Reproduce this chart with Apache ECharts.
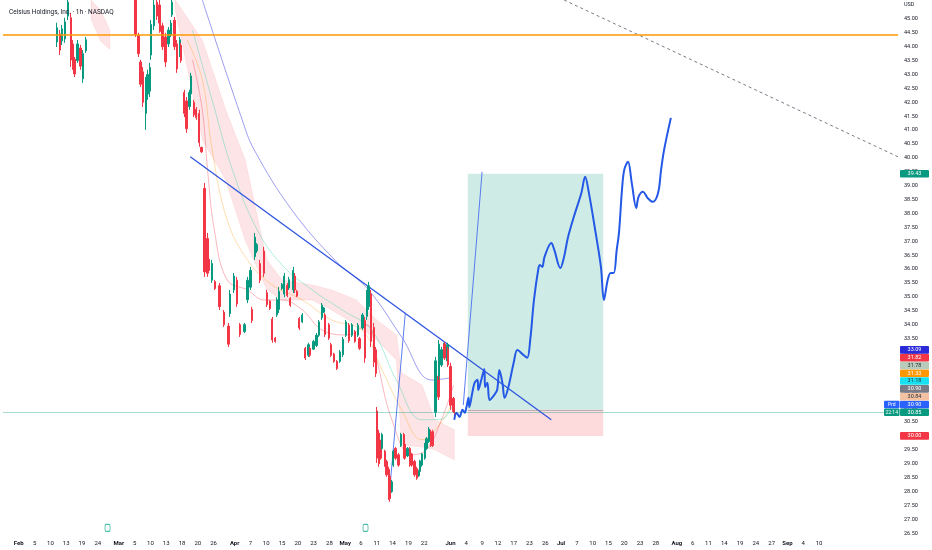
<!DOCTYPE html>
<html>
<head>
<meta charset="utf-8">
<script src="https://cdn.jsdelivr.net/npm/echarts@6/dist/echarts.min.js"></script>
<style>
html, body { margin: 0; padding: 0; background: #fff; }
#main { width: 932px; height: 550px; }
</style>
</head>
<body>
<div id="main"></div>
<script>
// time axis: trading hours, 7 per day
var tickDays = [3,6,9,12,15,18,22,25,28,31,34,37,40,44,47,50,53,56,59,62,65,68,71,74,77,80,85,88,91,94,97,100,103,106,109,112,115,118,121,124,128,131,134,137,140,143,146,149,152,155];
var tickTexts = ['Feb','5','10','13','19','24','Mar','5','10','13','18','20','26','Apr','7','10','15','20','23','28','May','6','11','14','19','22','Jun','4','9','12','17','23','26','Jul','7','10','15','20','23','28','Aug','6','11','14','19','24','27','Sep','4','10'];
var monthNames = ['Feb','Mar','Apr','May','Jun','Jul','Aug','Sep'];

var candleHours = [72,76,78,82,86,90,93,95,99,103,106,110,
  176,180,183,186,190,192,195,197,201,205,208,209,212,216,220,223,225,228,231,235,
  237,241,244,248,250,254,257,261,264,268,272,274,278,282,288,294,300,302,307,311,
  315,321,325,329,331,335,338,342,347,351,355,358,362,364,367,371,374,378,380,382,
  386,388,391,394,398,402,406,408,413,417,420,424,427,428,433,436,440,444,448,452,
  456,460,464,468,472,474,478,481,484,486,489,493,496,497,500,502,504,508,510,513,
  514,517,519,522,526,529,533,534,538,541,543,547,550,553,554,557,561,563,566,569,
  572,575,579,580,583,586,587,591,592,595,599,600];

// [open, close, low, high]
var candleOHLC = [
  [44.17,44.68,43.99,44.86],[44.46,43.88,43.70,44.60],[44.21,44.64,44.06,44.78],[44.28,44.89,44.14,45.04],
  [45.10,45.60,44.96,45.90],[45.04,43.52,43.27,45.22],[44.10,43.30,43.17,44.24],[43.55,43.02,42.91,43.63],
  [43.50,44.10,43.42,44.24],[43.95,43.30,43.17,44.06],[42.85,43.75,42.70,43.88],[43.85,44.25,43.78,44.35],
  [45.90,44.45,44.35,46.00],[44.40,43.75,43.63,44.50],[43.45,42.65,42.55,43.53],[43.10,42.00,41.83,43.27],
  [41.60,42.70,41.01,42.91],[42.30,43.00,42.09,43.17],[42.40,43.25,42.19,43.42],[43.70,44.80,43.53,44.96],
  [44.75,45.50,44.60,45.90],[45.60,45.10,44.96,45.90],[45.50,44.85,44.71,45.80],[44.90,44.55,44.50,44.96],
  [44.75,44.00,43.88,44.86],[44.35,43.45,43.27,44.50],[44.10,44.60,43.99,44.71],[44.45,44.85,44.35,44.96],
  [45.15,45.60,45.07,45.90],[44.95,44.00,43.88,45.07],[44.10,43.20,43.06,44.24],[43.75,44.25,43.63,44.35],
  [44.05,43.50,43.42,44.14],[42.35,41.60,41.47,42.45],[42.05,41.05,40.90,42.19],[41.85,42.35,41.73,42.45],
  [42.30,42.95,42.19,43.06],[42.00,41.55,41.47,42.09],[41.75,41.45,41.37,41.83],[41.60,40.55,40.40,41.73],
  [40.38,40.22,40.18,40.40],[38.90,35.90,35.72,39.10],[37.10,35.85,35.72,37.30],[36.35,35.95,35.86,36.44],
  [35.60,36.20,35.50,36.33],[35.55,35.30,35.25,35.61],[35.40,34.65,34.53,35.50],[34.45,34.00,33.92,34.53],
  [33.95,33.30,33.20,34.06],[34.40,35.10,34.28,35.25],[35.25,35.75,35.14,35.86],[35.60,34.75,34.64,35.72],
  [34.00,33.65,33.56,34.06],[33.75,34.00,33.70,34.06],[34.90,35.60,34.78,35.72],[35.35,35.95,35.25,36.08],
  [34.55,34.15,34.06,34.64],[36.45,37.15,36.33,37.30],[36.65,36.88,36.58,36.94],[36.20,35.60,35.50,36.33],
  [36.65,35.85,35.72,36.80],[35.15,34.72,34.64,35.25],[34.85,34.58,34.53,34.89],[34.20,33.45,33.35,34.28],
  [33.52,33.40,33.35,33.56],[34.35,34.90,34.28,34.99],[34.55,35.20,34.42,35.36],[35.30,35.45,35.25,35.50],
  [35.10,35.75,34.99,35.86],[35.42,35.05,34.99,35.50],[35.32,35.62,35.25,35.72],[34.95,34.70,34.64,34.99],
  [35.25,35.95,35.14,36.08],[35.75,35.25,35.14,35.86],[35.20,35.03,34.99,35.25],[34.22,33.88,33.81,34.28],
  [34.10,34.35,34.06,34.42],[33.15,32.80,32.73,33.20],[32.90,33.28,32.84,33.35],[33.15,32.90,32.84,33.20],
  [33.12,33.40,33.09,33.45],[33.25,33.62,33.20,33.70],[33.62,34.10,33.56,34.17],[34.25,34.70,34.17,34.78],
  [34.45,34.60,34.42,34.64],[34.35,33.65,33.56,34.42],[34.00,33.52,33.45,34.06],[33.28,32.90,32.84,33.35],
  [32.95,32.68,32.63,32.99],[32.68,32.42,32.37,32.73],[32.68,33.02,32.63,33.09],[32.92,33.48,32.84,33.56],
  [33.62,34.10,33.56,34.17],[33.98,33.42,33.35,34.06],[33.62,34.00,33.56,34.06],[33.75,33.40,33.35,33.81],
  [33.62,33.98,33.56,34.06],[33.50,33.15,33.09,33.56],[33.88,34.35,33.81,34.42],[34.15,32.80,32.63,34.28],
  [34.30,35.10,34.17,35.25],[34.65,35.40,34.53,35.54],[35.10,33.40,33.20,35.25],[33.90,32.65,32.48,34.06],
  [33.10,32.25,32.12,33.20],[30.90,29.20,29.03,31.04],[30.10,29.00,28.89,30.22],[29.80,29.20,29.14,29.86],
  [29.55,30.05,29.50,30.11],[29.45,28.95,28.89,29.50],[29.08,28.60,28.53,29.14],[28.80,27.85,27.70,28.89],
  [28.55,27.75,27.63,28.67],[28.00,28.35,27.95,28.42],[28.95,29.45,28.89,29.50],[29.55,29.20,29.14,29.60],
  [29.32,28.95,28.89,29.39],[29.65,30.05,29.60,30.11],[30.05,29.55,29.50,30.11],[29.70,29.20,29.14,29.75],
  [29.28,29.55,29.24,29.60],[29.55,28.95,28.89,29.60],[29.35,28.95,28.89,29.39],[29.08,28.60,28.53,29.14],
  [28.82,28.48,28.42,28.89],[28.56,28.75,28.53,28.78],[28.72,29.10,28.67,29.14],[28.95,29.35,28.89,29.39],
  [29.20,29.70,29.14,29.75],[29.55,29.90,29.50,29.96],[29.80,30.25,29.75,30.32],[30.15,29.65,29.60,30.22],
  [30.15,29.65,29.60,30.22],[30.85,32.70,30.68,32.84],[32.15,31.40,31.29,32.27],[32.15,33.30,32.01,33.45],
  [32.55,33.10,32.48,33.20],[33.02,33.30,32.99,33.35],[33.30,32.80,32.73,33.38],[32.70,33.28,32.63,33.35],
  [33.12,32.55,32.48,33.20],[32.50,31.10,30.94,32.63],[31.35,30.88,30.83,31.40],[30.90,30.85,30.70,30.94]
];

// ichimoku-like cloud (two pieces)
var cloudHours1 = [117,130,142];
var cloudTop1 = [45.68,45.30,44.60];
var cloudBottom1 = [45.00,44.20,43.90];
var cloudHours2 = [229,265,296,322,342,351,371,411,437,470,497,523,530,557,574,600];
var cloudTop2 = [45.68,44.24,41.73,39.93,37.41,36.33,35.61,35.43,35.25,34.89,34.17,33.63,32.27,31.83,30.58,30.22];
var cloudBottom2 = [45.32,40.65,39.21,37.05,35.79,35.25,34.89,34.89,34.53,33.99,33.45,32.73,29.68,29.60,29.50,29.14];

// moving averages
var maSlowHours = [265,318,334,384,441,486,530,570,596];
var maSlow = [45.68,41.37,40.29,38.13,36.33,35.25,33.56,32.01,32.09];
var maRedHours = [252,265,272,281,298,325,347,371,398,424,457,484,497,517,543,563,583,599];
var maRed = [43.53,41.73,39.57,37.41,35.61,35.25,34.89,34.89,34.53,33.81,33.63,33.99,32.73,30.58,29.32,29.50,30.58,31.82];
var maOrangeHours = [245,265,278,298,325,358,398,437,477,504,530,557,583,599];
var maOrange = [44.24,42.81,40.29,37.77,36.33,35.43,34.89,34.17,33.81,32.37,30.94,29.86,30.50,31.33];
var maGreenHours = [252,278,305,338,371,411,451,490,523,557,583,599];
var maGreen = [44.60,42.09,39.57,37.41,36.15,35.25,34.53,33.81,32.01,30.58,30.60,31.18];

// drawings
var trendHours = [249,729];
var trendPrices = [40.04,30.58];
var rayAHours = [513,535];
var rayAPrices = [27.70,34.43];
var rayBHours = [612,637];
var rayBPrices = [31.11,39.50];
var dashHours = [746,1190];
var dashPrices = [45.68,40.04];
var forecastHours = [600,603,607,611,614,616,619,620,624,627,631,632,636,640,641,644,647,653,657,660,664,667,672,679,684,692,697,701,706,712,714,717,720,729,733,741,746,751,759,769,774,779,788,795,799,804,808,812,816,819,823,826,831,836,842,845,851,857,864,871,875,879,888];
var forecastPrices = [30.58,30.83,30.68,30.94,30.83,31.01,31.37,31.04,31.55,31.91,32.02,31.65,32.02,32.41,31.76,31.91,31.29,31.47,31.65,32.37,31.91,31.37,31.76,32.63,33.09,32.91,32.81,33.45,34.89,36.04,36.15,36.08,36.44,36.94,36.69,36.04,36.44,37.12,37.88,38.74,39.32,38.74,37.30,36.08,34.89,35.61,35.86,35.86,36.69,37.30,38.85,39.57,39.86,39.10,38.20,38.60,38.78,38.56,38.42,38.74,39.57,40.29,41.44];

// long position
var posStart = 618, posEnd = 798;
var entryPrice = 30.94, targetPrice = 39.43, stopPrice = 30.00;
var resistancePrice = 44.43;
var lastPrice = 30.85;
var eventHours = [139, 482];

// price tags stacked at the right
var tagTexts = ['33.09','31.82','31.78','31.33','31.18','30.90','30.84','30.90','30.85'];
var tagPrefix = ['','','','','','','','Prd','22:14'];
var tagBg = ['#2a2ad8','#f23645','#b9ccbb','#ff9800','#18e0f0','#787b86','#f2c2a2','#2962ff','#089981'];
var tagFg = ['#fff','#fff','#2a2e39','#fff','#2a2e39','#fff','#2a2e39','#fff','#fff'];

function zip(xs, ys) { return xs.map(function (x, i) { return [x, ys[i]]; }); }

var labelMap = {};
tickDays.forEach(function (d, i) { labelMap[d] = tickTexts[i]; });

var candleData = candleHours.map(function (h, i) { return [h].concat(candleOHLC[i]); });

var cloudPieces = [
  { h: cloudHours1, t: cloudTop1, b: cloudBottom1 },
  { h: cloudHours2, t: cloudTop2, b: cloudBottom2 }
];

var myChart = echarts.init(document.getElementById('main'));

function thinLine(name, xs, ys, color, width, extra) {
  var s = {
    name: name, type: 'line', data: zip(xs, ys), symbol: 'none', silent: true,
    lineStyle: { color: color, width: width }, z: 3, clip: false
  };
  for (var k in extra) s[k] = extra[k];
  return s;
}

var option = {
  animation: false,
  backgroundColor: '#ffffff',
  title: {
    text: 'Celsius Holdings, Inc. · 1h · NASDAQ',
    left: 4, top: 4,
    textStyle: { fontSize: 6.5, fontWeight: 'normal', color: '#131722', fontFamily: 'Roboto' }
  },
  grid: { left: 0, right: 34, top: 5, bottom: 16.8 },
  xAxis: {
    type: 'value', min: 0, max: 1190, interval: 7,
    axisLine: { show: false }, axisTick: { show: false }, splitLine: { show: false },
    axisLabel: {
      margin: 7, fontSize: 6, color: '#131722', fontFamily: 'Roboto',
      showMinLabel: true, showMaxLabel: true,
      formatter: function (v) {
        var t = labelMap[Math.round(v / 7)];
        if (!t) return '';
        return monthNames.indexOf(t) >= 0 ? '{m|' + t + '}' : t;
      },
      rich: { m: { fontSize: 6, fontWeight: 'bold', color: '#131722', fontFamily: 'Roboto' } }
    }
  },
  yAxis: {
    type: 'value', position: 'right', min: 26.5, max: 45.5, interval: 0.5,
    axisLine: { show: false }, axisTick: { show: false }, splitLine: { show: false },
    axisLabel: {
      margin: 6, fontSize: 5.5, color: '#131722', fontFamily: 'Roboto',
      formatter: function (v) { return v >= 45.5 ? 'USD' : v.toFixed(2); }
    }
  },
  series: [
    {
      name: 'cloud', type: 'custom', silent: true, z: 1, clip: false,
      data: [0],
      renderItem: function (params, api) {
        var children = cloudPieces.map(function (p) {
          var pts = [];
          p.h.forEach(function (h, i) { pts.push(api.coord([h, p.t[i]])); });
          for (var i = p.h.length - 1; i >= 0; i--) pts.push(api.coord([p.h[i], p.b[i]]));
          return { type: 'polygon', shape: { points: pts }, style: { fill: 'rgba(242,54,69,0.13)', stroke: 'rgba(242,54,69,0.18)', lineWidth: 0.5 } };
        });
        return { type: 'group', children: children };
      }
    },
    thinLine('maRed', maRedHours, maRed, 'rgba(242,54,69,0.45)', 0.8, { smooth: 0.4 }),
    thinLine('maOrange', maOrangeHours, maOrange, 'rgba(255,152,0,0.4)', 0.8, { smooth: 0.4 }),
    thinLine('maGreen', maGreenHours, maGreen, 'rgba(8,200,160,0.4)', 0.8, { smooth: 0.4 }),
    thinLine('maSlow', maSlowHours, maSlow, 'rgba(110,110,235,0.75)', 0.9, { smooth: 0.4 }),
    {
      name: 'price', type: 'candlestick', data: candleData, barWidth: 1.8, clip: false, z: 4,
      itemStyle: {
        color: '#089981', color0: '#f23645',
        borderColor: '#089981', borderColor0: '#f23645', borderWidth: 1
      },
      markLine: {
        silent: true, symbol: 'none', label: { show: false },
        data: [
          { yAxis: resistancePrice, lineStyle: { color: '#ff9800', width: 1.5, type: 'solid' } },
          { yAxis: lastPrice, lineStyle: { color: 'rgba(8,153,129,0.45)', width: 0.8, type: 'solid' } }
        ]
      }
    },
    {
      name: 'position', type: 'line', data: [], silent: true, z: 0,
      markArea: {
        silent: true,
        data: [
          [{ xAxis: posStart, yAxis: entryPrice, itemStyle: { color: 'rgba(8,153,129,0.2)' } }, { xAxis: posEnd, yAxis: targetPrice }],
          [{ xAxis: posStart, yAxis: stopPrice, itemStyle: { color: 'rgba(242,54,69,0.18)' } }, { xAxis: posEnd, yAxis: entryPrice }]
        ]
      },
      markLine: {
        silent: true, symbol: 'none', label: { show: false },
        lineStyle: { color: 'rgba(120,123,134,0.6)', width: 0.8, type: 'solid' },
        data: [[{ coord: [posStart, entryPrice] }, { coord: [posEnd, entryPrice] }]]
      }
    },
    thinLine('trend', trendHours, trendPrices, '#2f55e0', 1.3, {}),
    thinLine('rayA', rayAHours, rayAPrices, '#4a6ef2', 0.9, {}),
    thinLine('rayB', rayBHours, rayBPrices, '#4a6ef2', 0.9, {}),
    {
      name: 'dash', type: 'line', data: zip(dashHours, dashPrices), symbol: 'none', silent: true, clip: false,
      lineStyle: { color: '#787b86', width: 1, type: [3, 3] }, z: 3
    },
    thinLine('forecast', forecastHours, forecastPrices, '#2458e6', 2, { smooth: 0.35, z: 5 }),
    {
      name: 'events', type: 'scatter', silent: true, z: 5,
      data: eventHours.map(function (h) { return [h, 26.69]; }),
      symbol: 'roundRect', symbolSize: [5, 7],
      itemStyle: { color: '#ffffff', borderColor: '#22ab94', borderWidth: 1 }
    }
  ]
};

myChart.setOption(option);

// right-hand price tags, placed through the y scale
function tagGraphic(cy, text, bg, fg, prefix, prefixBg) {
  var els = [
    { type: 'rect', z: 100, shape: { x: 900, y: cy - 3.8, width: 29, height: 7.6, r: 1 }, style: { fill: bg } },
    { type: 'text', z: 101, style: { x: 914.5, y: cy, text: text, align: 'center', verticalAlign: 'middle', fontSize: 5.5, fontFamily: 'Roboto', fill: fg } }
  ];
  if (prefix) {
    els.push({ type: 'rect', z: 100, shape: { x: 884, y: cy - 3.8, width: 15.5, height: 7.6, r: 1 }, style: { fill: prefixBg } });
    els.push({ type: 'text', z: 101, style: { x: 891.75, y: cy, text: prefix, align: 'center', verticalAlign: 'middle', fontSize: 5, fontFamily: 'Roboto', fill: '#fff' } });
  }
  return els;
}

var graphics = [];
var anchorY = myChart.convertToPixel({ yAxisIndex: 0 }, lastPrice);
var step = 7.8;
for (var i = tagTexts.length - 1; i >= 0; i--) {
  var cy = anchorY - (tagTexts.length - 1 - i) * step;
  graphics = graphics.concat(tagGraphic(cy, tagTexts[i], tagBg[i], tagFg[i], tagPrefix[i], tagBg[i]));
}
graphics = graphics.concat(tagGraphic(myChart.convertToPixel({ yAxisIndex: 0 }, targetPrice), targetPrice.toFixed(2), '#089981', '#fff'));
graphics = graphics.concat(tagGraphic(myChart.convertToPixel({ yAxisIndex: 0 }, stopPrice), stopPrice.toFixed(2), '#f23645', '#fff'));
myChart.setOption({ graphic: graphics });
</script>
</body>
</html>
